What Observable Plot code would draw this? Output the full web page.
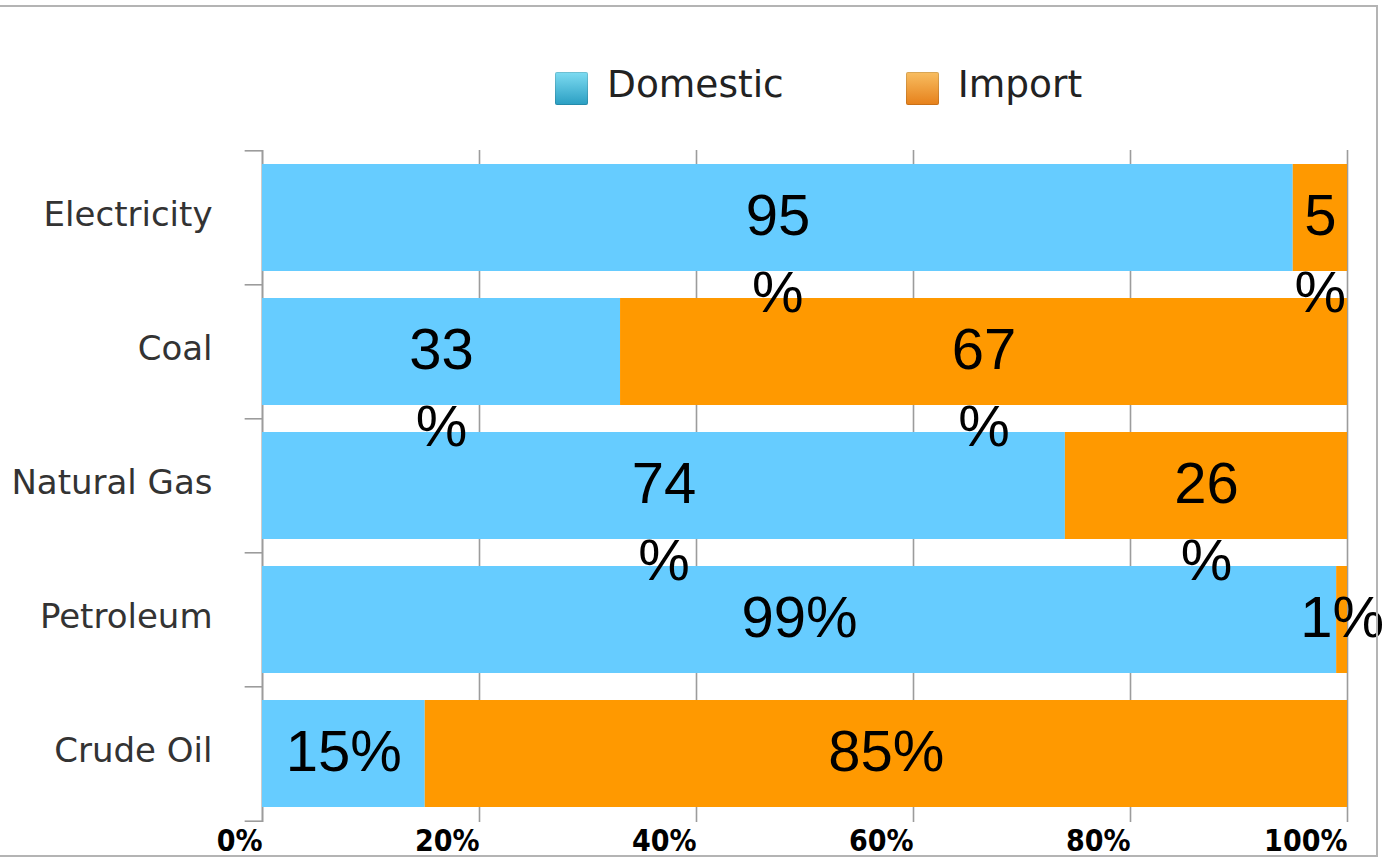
<!DOCTYPE html>
<html>
<head>
<meta charset="utf-8">
<script src="https://cdn.jsdelivr.net/npm/d3@7"></script>
<script src="https://cdn.jsdelivr.net/npm/@observablehq/plot@0.6"></script>
<style>
  html, body { margin: 0; padding: 0; background: #fff; }
  #wrap { position: relative; width: 1384px; height: 859px; overflow: hidden; background: #fff; }
  #frame { position: absolute; left: -4px; top: 5px; width: 1382px; height: 852px; border: 2px solid #b4b4b4; box-sizing: border-box; pointer-events: none; z-index: 3; }
  #legend { position: absolute; left: 555px; top: 62px; display: flex; align-items: center; font-family: "DejaVu Sans", sans-serif; font-size: 37.5px; color: #222; z-index: 2; }
  .item { display: flex; align-items: center; margin-right: 122px; }
  .sw { width: 33px; height: 33px; margin-right: 19px; margin-top: 8px; border-radius: 2px; box-shadow: inset 0 0 0 1px rgba(0,0,0,0.12); }
  #chart { position: absolute; left: 0; top: 0; z-index: 1; }
</style>
</head>
<body>
<div id="wrap">
  <div id="chart"></div>
  <div id="legend"></div>
  <div id="frame"></div>
</div>
<script>
// ---- data ----
const categories = ["Electricity", "Coal", "Natural Gas", "Petroleum", "Crude Oil"];
const domestic = [95, 33, 74, 99, 15];
const imports = [5, 67, 26, 1, 85];
const seriesNames = ["Domestic", "Import"];
const seriesColors = ["#66ccff", "#ff9900"];
const legendGradients = [["#7edcf2", "#2a9ec2"], ["#f8be62", "#e6801a"]];
const xTicks = [0, 20, 40, 60, 80, 100];
const wrappedRows = ["Electricity", "Coal", "Natural Gas"]; // value labels broken onto two lines

// ---- table ----
const rows = categories.flatMap((c, i) => [
  {category: c, series: seriesNames[0], value: domestic[i]},
  {category: c, series: seriesNames[1], value: imports[i]}
]);
const labelText = d => wrappedRows.includes(d.category) ? `${d.value}\n%` : `${d.value}%`;

// ---- layout ----
const W = 1384, H = 859, mL = 262, mR = 37, mT = 150, mB = 37;
const step = (H - mT - mB) / categories.length;

const chart = Plot.plot({
  width: W, height: H,
  marginLeft: mL, marginRight: mR, marginTop: mT, marginBottom: mB,
  style: {background: "transparent", overflow: "visible"},
  x: {domain: [0, 100]},
  y: {domain: categories, paddingInner: 0.2, paddingOuter: 0.1},
  color: {domain: seriesNames, range: seriesColors},
  marks: [
    Plot.gridX(xTicks, {stroke: "#9c9c9c", strokeOpacity: 1, strokeWidth: 1.6}),
    Plot.ruleX([0], {stroke: "#9c9c9c", strokeWidth: 1.6}),
    Plot.ruleY(categories, {y: d => d, x1: -1.6, x2: 0, dy: -step / 2, stroke: "#9c9c9c", strokeWidth: 1.6}),
    Plot.ruleY(categories.slice(-1), {y: d => d, x1: -1.6, x2: 0, dy: step / 2, stroke: "#9c9c9c", strokeWidth: 1.6}),
    Plot.barX(rows, Plot.stackX({x: "value", y: "category", fill: "series"})),
    Plot.text(rows, Plot.stackX({
      x: "value", y: "category", text: labelText,
      lineAnchor: "top", dy: -38, lineHeight: 1.33,
      fontSize: 58, fontFamily: "Liberation Sans, Arial, sans-serif", fill: "#000"
    })),
    Plot.axisX(xTicks, {
      tickFormat: d => d + "%", tickSize: 0, tickPadding: 7, textAnchor: "end", dx: 0,
      fontSize: 30, fontWeight: "bold", fontFamily: "DejaVu Sans Condensed, DejaVu Sans, sans-serif",
      fill: "#000", label: null
    }),
    Plot.axisY({
      tickSize: 0, tickPadding: 50, fontSize: 34, fontFamily: "DejaVu Sans, sans-serif",
      fill: "#333", label: null, dy: -3
    })
  ]
});
document.getElementById("chart").appendChild(chart);

// ---- legend ----
const legend = document.getElementById("legend");
seriesNames.forEach((name, i) => {
  const item = document.createElement("div");
  item.className = "item";
  const sw = document.createElement("span");
  sw.className = "sw";
  sw.style.background = `linear-gradient(${legendGradients[i][0]}, ${legendGradients[i][1]})`;
  const tx = document.createElement("span");
  tx.textContent = name;
  item.appendChild(sw);
  item.appendChild(tx);
  legend.appendChild(item);
});
</script>
</body>
</html>
